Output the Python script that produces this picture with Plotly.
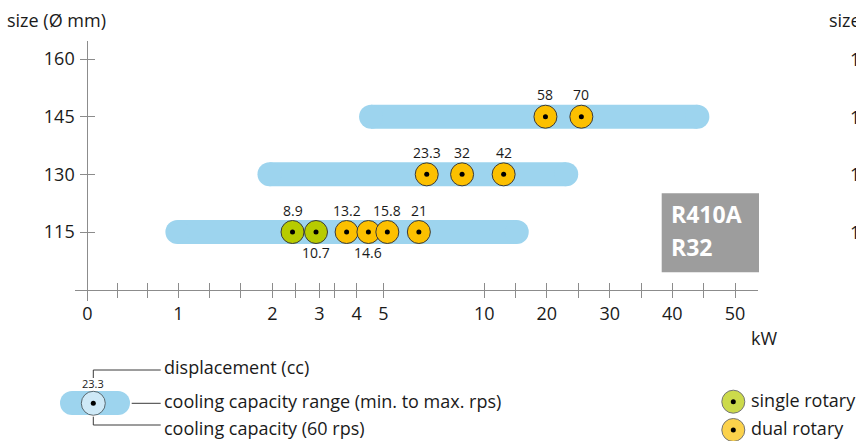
import numpy as np
import plotly.graph_objects as go

W, H = 856, 441
FONT = "Open Sans"
TXT = "#1a1a1a"
AX = "#8c8c8c"
BAR = "#9dd4ee"
GREEN = "#b7cb00"
ORANGE = "#fcc000"
EDGE = "#3a3a3a"

# ---- x scale (non-uniform kW scale of the original) ----
KW_TICKS = [0, 1, 2, 3, 4, 5, 10, 20, 30, 40, 50]
KW_MINOR = [1/3, 2/3, 4/3, 5/3, 2.5, 3.4, 15, 25, 35, 45]
TICK_PX = [87.3, 178.3, 272.3, 319.3, 356.7, 383.3, 484.3, 546.7, 609.7, 672.3, 735.0]

def xs(kw):
    return np.interp(kw, KW_TICKS, TICK_PX)

# ---- data ----
SIZES = [115, 130, 145]                 # compressor size (Ø mm)
RANGE_MIN = [0.99, 1.97, 4.54]          # kW, min rps
RANGE_MAX = [15.2, 23.1, 44.0]          # kW, max rps

PT_SIZE = [115, 115, 115, 115, 115, 115, 130, 130, 130, 145, 145]
PT_KW = [2.43, 2.93, 3.73, 4.44, 5.2, 6.76, 7.15, 8.9, 13.1, 19.8, 25.5]
PT_CC = ["8.9", "10.7", "13.2", "14.6", "15.8", "21", "23.3", "32", "42", "58", "70"]
PT_TYPE = ["single", "single", "dual", "dual", "dual", "dual", "dual", "dual", "dual", "dual", "dual"]
PT_LABEL = ["top", "bottom", "top", "bottom", "top", "top", "top", "top", "top", "top", "top"]

Y_TICKS = [115, 130, 145, 160]

fig = go.Figure()

# capacity range bars
for s, lo, hi in zip(SIZES, RANGE_MIN, RANGE_MAX):
    fig.add_trace(go.Scatter(
        x=xs([lo, hi]), y=[s, s], mode="lines+markers",
        line=dict(color=BAR, width=24),
        marker=dict(size=24, color=BAR, line=dict(width=0)),
        hoverinfo="skip", showlegend=False))

# 60 rps capacity points
colors = [GREEN if t == "single" else ORANGE for t in PT_TYPE]
fig.add_trace(go.Scatter(
    x=xs(PT_KW), y=PT_SIZE, mode="markers",
    marker=dict(size=23, color=colors, line=dict(width=1, color=EDGE)),
    hoverinfo="skip", showlegend=False))
fig.add_trace(go.Scatter(
    x=xs(PT_KW), y=PT_SIZE, mode="markers",
    marker=dict(size=5, color="black"),
    hoverinfo="skip", showlegend=False))

# dummy trace for the overlay tick axes
fig.add_trace(go.Scatter(x=[None], y=[None], xaxis="x2", yaxis="y2",
                         showlegend=False, hoverinfo="skip"))

# ---- legend key (pixel axis x3/y3) ----
fig.add_trace(go.Scatter(
    x=[72, 118], y=[403, 403], xaxis="x3", yaxis="y3", mode="lines+markers",
    line=dict(color=BAR, width=24), marker=dict(size=24, color=BAR, line=dict(width=0)),
    hoverinfo="skip", showlegend=False))
fig.add_trace(go.Scatter(
    x=[93.3, 733.3, 733.3], y=[403.3, 401.7, 430], xaxis="x3", yaxis="y3", mode="markers",
    marker=dict(size=[24, 23, 23], color=["#e4f3fb", GREEN, ORANGE], line=dict(width=1, color=EDGE)),
    hoverinfo="skip", showlegend=False))
fig.add_trace(go.Scatter(
    x=[93.3, 733.3, 733.3], y=[403.3, 401.7, 430], xaxis="x3", yaxis="y3", mode="markers",
    marker=dict(size=5, color="black"), hoverinfo="skip", showlegend=False))

shapes = []
def seg(x0, y0, x1, y1):
    shapes.append(dict(type="line", xref="x3", yref="y3", x0=x0, y0=y0, x1=x1, y1=y1,
                       line=dict(color=EDGE, width=1)))
seg(93.3, 378, 93.3, 370); seg(93.3, 370, 160.7, 370)
seg(131.7, 403.3, 160.7, 403.3)
seg(93.3, 416.7, 93.3, 425); seg(93.3, 425, 160.7, 425)
shapes.append(dict(type="rect", xref="x3", yref="y3", x0=661.7, x1=759, y0=193.3, y1=272.3,
                   fillcolor="#9d9d9d", line=dict(width=0), layer="below"))

ann = []
# displacement labels on the capacity points
for xk, yv, t, pos in zip(xs(PT_KW), PT_SIZE, PT_CC, PT_LABEL):
    ann.append(dict(xref="x", yref="y", x=xk, y=yv, text=t, showarrow=False,
                    xanchor="center", yanchor="middle",
                    yshift=22 if pos == "top" else -20,
                    font=dict(family=FONT, size=14, color=TXT)))

def txt(x, y, t, size=18, xa="left", color=TXT, bold=False):
    ann.append(dict(xref="x3", yref="y3", x=x, y=y, text=("<b>%s</b>" % t) if bold else t,
                    showarrow=False, xanchor=xa, yanchor="middle",
                    font=dict(family=FONT, size=size, color=color)))
txt(5, 20, "size (Ø mm)")
txt(749, 338, "kW")
txt(93.3, 383.5, "23.3", size=11, xa="center")
txt(162, 367, "displacement (cc)")
txt(162, 401, "cooling capacity range (min. to max. rps)")
txt(162, 428, "cooling capacity (60 rps)")
txt(749, 400, "single rotary")
txt(749, 428, "dual rotary")
txt(669, 214, "R410A", size=23, color="white", bold=True)
txt(669, 247, "R32", size=23, color="white", bold=True)
# edge of the neighbouring chart (cut off)
txt(827, 20, "size (Ø mm)")
for yy, t in zip([59, 117, 174, 232], ["160", "145", "130", "115"]):
    txt(848, yy, t)

x_all = list(xs(KW_TICKS)) + list(xs(KW_MINOR))
x_txt = [str(k) for k in KW_TICKS] + [""] * len(KW_MINOR)

XDOM = [75 / W, 758 / W]
YDOM = [1 - 301 / H, 1 - 41 / H]
XPOS = 1 - 289.5 / H
YPOS = 87.3 / W
XR = [75, 758]
YR = [97.05, 164.7]

common_x = dict(domain=XDOM, range=XR, anchor="free", position=XPOS, showgrid=False,
                zeroline=False, tickvals=x_all, ticklen=7, tickwidth=1, tickcolor=AX,
                fixedrange=True)
common_y = dict(domain=YDOM, range=YR, anchor="free", position=YPOS, showgrid=False,
                zeroline=False, tickvals=Y_TICKS, ticklen=7, tickwidth=1, tickcolor=AX,
                fixedrange=True)

fig.update_layout(
    width=W, height=H, autosize=False,
    margin=dict(l=0, r=0, t=0, b=0),
    paper_bgcolor="white", plot_bgcolor="rgba(0,0,0,0)",
    showlegend=False,
    xaxis=dict(**common_x, ticks="outside", ticktext=x_txt, showline=True, linecolor=AX,
               linewidth=1, tickfont=dict(family=FONT, size=18, color=TXT), ticklabelstandoff=1),
    xaxis2=dict(**common_x, overlaying="x", ticks="inside", showticklabels=False, showline=False),
    yaxis=dict(**common_y, ticks="outside", showline=True, linecolor=AX, linewidth=1,
               tickfont=dict(family=FONT, size=18, color=TXT), ticklabelstandoff=2),
    yaxis2=dict(**common_y, overlaying="y", ticks="inside", showticklabels=False, showline=False),
    xaxis3=dict(domain=[0, 1], range=[0, W], visible=False, fixedrange=True, anchor="y3"),
    yaxis3=dict(domain=[0, 1], range=[H, 0], visible=False, fixedrange=True, anchor="x3"),
    shapes=shapes, annotations=ann,
)

fig.write_html("out.html", config={"displayModeBar": False},
               post_script="document.body.style.margin='0';document.body.style.overflow='hidden';")
